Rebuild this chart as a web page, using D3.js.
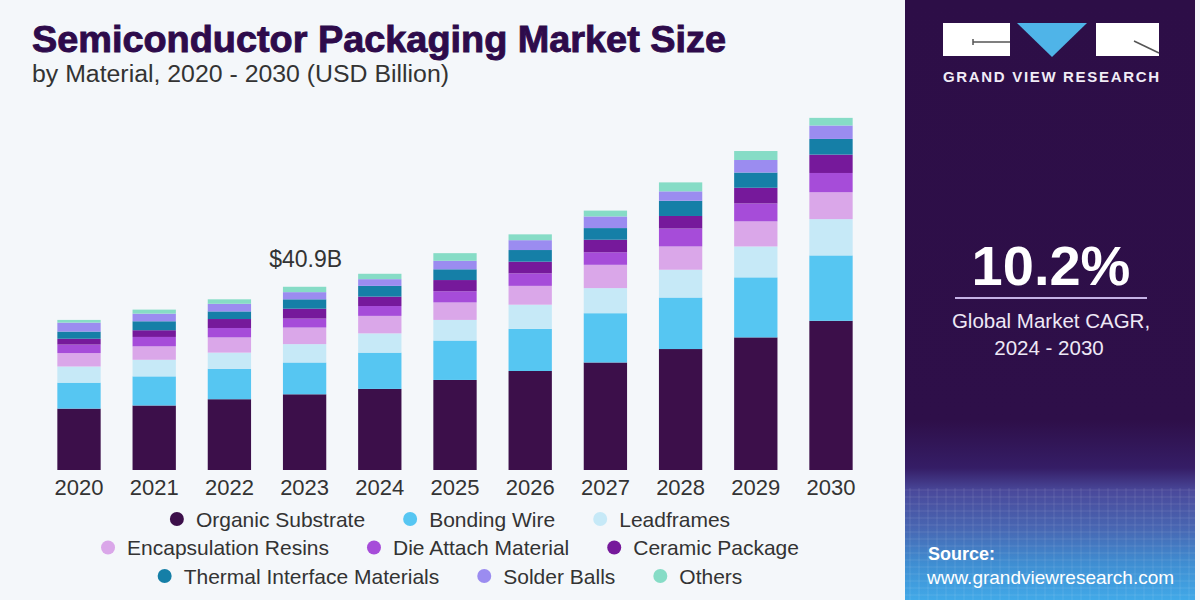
<!DOCTYPE html>
<html>
<head>
<meta charset="utf-8">
<script src="https://cdn.jsdelivr.net/npm/d3@7"></script>
<style>
  html, body { margin: 0; padding: 0; background: #f4f7fa; }
  svg { display: block; }
  text { font-family: "Liberation Sans", Arial, sans-serif; }
</style>
</head>
<body>
<svg id="chart" width="1200" height="600"></svg>
<script>
// ---------- data (USD Billion) ----------
const years = ["2020","2021","2022","2023","2024","2025","2026","2027","2028","2029","2030"];
const organicSubstrate   = [13.7, 14.4, 15.8, 16.9, 18.1, 20.1, 22.1, 24.0, 27.0, 29.6, 33.3];
const bondingWire        = [5.8, 6.5, 6.8, 7.1, 8.1, 8.8, 9.4, 11.0, 11.5, 13.4, 14.6];
const leadframes         = [3.6, 3.7, 3.6, 4.1, 4.3, 4.6, 5.4, 5.6, 6.2, 6.9, 8.1];
const encapsulation      = [3.0, 3.0, 3.4, 3.7, 3.9, 3.9, 4.2, 5.2, 5.2, 5.6, 6.0];
const dieAttach          = [1.9, 2.1, 2.1, 2.0, 2.2, 2.5, 2.8, 2.8, 4.0, 4.0, 4.3];
const ceramicPackage     = [1.3, 1.5, 2.0, 2.2, 2.1, 2.5, 2.6, 2.8, 2.8, 3.5, 4.1];
const thermalInterface   = [1.6, 2.0, 1.7, 2.1, 2.4, 2.4, 2.6, 2.6, 3.4, 3.4, 3.5];
const solderBalls        = [2.0, 1.7, 1.7, 1.6, 1.5, 1.9, 2.2, 2.6, 2.1, 2.8, 3.0];
const others             = [0.6, 0.9, 1.0, 1.2, 1.2, 1.7, 1.3, 1.3, 2.0, 2.0, 1.7];
const seriesNames = ["Organic Substrate","Bonding Wire","Leadframes","Encapsulation Resins",
  "Die Attach Material","Ceramic Package","Thermal Interface Materials","Solder Balls","Others"];
const seriesValues = [organicSubstrate, bondingWire, leadframes, encapsulation, dieAttach,
  ceramicPackage, thermalInterface, solderBalls, others];
const seriesColors = ["#3c0f4a","#56c6f2","#c6e9f7","#daa7e9","#a64cd9","#76199b","#157fa7","#9b8cf0","#86dcc6"];
const legendRows = [
  ["Organic Substrate","Bonding Wire","Leadframes"],
  ["Encapsulation Resins","Die Attach Material","Ceramic Package"],
  ["Thermal Interface Materials","Solder Balls","Others"]
];
const annotationYear = "2023";
const annotationText = "$40.9B";
const cagrText = "10.2%";

// ---------- build table ----------
const table = years.map((y, i) => {
  const row = { year: y };
  seriesNames.forEach((n, k) => row[n] = seriesValues[k][i]);
  return row;
});
const stacked = d3.stack().keys(seriesNames)(table);
const color = d3.scaleOrdinal().domain(seriesNames).range(seriesColors);

const svg = d3.select("#chart");

// background
svg.append("rect").attr("width", 1200).attr("height", 600).attr("fill", "#f4f7fa");

// ---------- scales ----------
const x = d3.scaleBand().domain(years).range([41.4, 868.6]).paddingInner(0.424).paddingOuter(0.212);
const y = d3.scaleLinear().domain([0, 100]).range([470, 22]);

// ---------- bars ----------
const layers = svg.append("g").selectAll("g").data(stacked).join("g")
  .attr("fill", d => color(d.key));
layers.selectAll("rect").data(d => d).join("rect")
  .attr("x", d => x(d.data.year))
  .attr("width", x.bandwidth())
  .attr("y", d => y(d[1]))
  .attr("height", d => y(d[0]) - y(d[1]));

// ---------- x axis ----------
const xAxis = svg.append("g").attr("transform", "translate(0,470)")
  .call(d3.axisBottom(x).tickSize(0).tickPadding(9.5));
xAxis.select(".domain").remove();
xAxis.selectAll("text").attr("font-size", 22).attr("fill", "#333")
  .style("font-family", "'Liberation Sans', Arial, sans-serif");

// ---------- annotation ----------
const annIdx = years.indexOf(annotationYear);
const annTotal = d3.sum(seriesValues, s => s[annIdx]);
svg.append("text")
  .attr("x", x(annotationYear) + x.bandwidth() / 2 + 1)
  .attr("y", y(annTotal) - 19.5)
  .attr("text-anchor", "middle").attr("font-size", 23).attr("fill", "#333")
  .text(annotationText);

// ---------- title ----------
svg.append("text").attr("x", 32).attr("y", 52)
  .attr("font-size", 36).attr("font-weight", 900).attr("fill", "#2e0b4b")
  .attr("stroke", "#2e0b4b").attr("stroke-width", 0.9)
  .attr("textLength", 694).attr("lengthAdjust", "spacingAndGlyphs")
  .text("Semiconductor Packaging Market Size");
svg.append("text").attr("x", 32).attr("y", 82)
  .attr("font-size", 23).attr("fill", "#333")
  .attr("textLength", 417).attr("lengthAdjust", "spacingAndGlyphs")
  .text("by Material, 2020 - 2030 (USD Billion)");

// ---------- legend ----------
const legendCenter = 450, legendGap = 38, dotR = 7, textOff = 19;
const legendBase = [526.5, 555, 583.5];
legendRows.forEach((row, r) => {
  const g = svg.append("g");
  const items = row.map(name => {
    const ig = g.append("g");
    ig.append("circle").attr("r", dotR).attr("cy", -7.5).attr("cx", dotR).attr("fill", color(name));
    const t = ig.append("text").attr("x", dotR + textOff).attr("y", 0)
      .attr("font-size", 21).attr("fill", "#333").text(name);
    return { ig, w: dotR + textOff + t.node().getComputedTextLength() };
  });
  const total = d3.sum(items, d => d.w) + legendGap * (items.length - 1);
  let cx = legendCenter - total / 2;
  items.forEach(it => {
    it.ig.attr("transform", `translate(${cx},${legendBase[r]})`);
    cx += it.w + legendGap;
  });
});

// ---------- right panel ----------
const defs = svg.append("defs");
const grad = defs.append("linearGradient").attr("id", "panelGrad")
  .attr("x1", 0).attr("y1", 0).attr("x2", 0).attr("y2", 1);
[[0, "#2d0e47"], [0.70, "#2e0f49"], [0.78, "#351d66"], [0.82, "#4a4a9c"], [0.88, "#4866b2"], [0.94, "#3f8ed2"], [1, "#41a9e8"]]
  .forEach(([o, c]) => grad.append("stop").attr("offset", o).attr("stop-color", c));
svg.append("rect").attr("x", 905).attr("y", 0).attr("width", 290).attr("height", 600).attr("fill", "url(#panelGrad)");

// faint grid texture at panel bottom
const grid = svg.append("g").attr("stroke", "#ffffff").attr("stroke-opacity", 0.10).attr("stroke-width", 1);
d3.range(490, 600, 7).forEach(yy => grid.append("line").attr("x1", 905).attr("x2", 1195).attr("y1", yy).attr("y2", yy));
d3.range(910, 1195, 9).forEach(xx => grid.append("line").attr("x1", xx).attr("x2", xx).attr("y1", 488).attr("y2", 600));

// logo
const logo = svg.append("g");
logo.append("rect").attr("x", 943).attr("y", 23).attr("width", 67).attr("height", 33).attr("fill", "#ffffff");
logo.append("path").attr("d", "M1017,23 L1087,23 L1052,57 Z").attr("fill", "#4fb4e8");
logo.append("rect").attr("x", 1096).attr("y", 23).attr("width", 63).attr("height", 33).attr("fill", "#ffffff");
logo.append("path").attr("d", "M973,39 L973,45 M973,42 L1010,42").attr("stroke", "#555").attr("stroke-width", 1.5).attr("fill", "none");
logo.append("path").attr("d", "M1134,41 L1159,53").attr("stroke", "#555").attr("stroke-width", 1.5);
logo.append("text").attr("x", 943).attr("y", 82).attr("font-size", 15).attr("font-weight", 700)
  .attr("fill", "#f1ecf6").attr("textLength", 216).attr("lengthAdjust", "spacing")
  .text("GRAND VIEW RESEARCH");

// CAGR
svg.append("text").attr("x", 1051).attr("y", 285).attr("text-anchor", "middle")
  .attr("font-size", 56).attr("font-weight", 700).attr("fill", "#ffffff").text(cagrText);
svg.append("line").attr("x1", 955).attr("x2", 1147).attr("y1", 298).attr("y2", 298)
  .attr("stroke", "#c5b2e6").attr("stroke-width", 2);
svg.append("text").attr("x", 1051).attr("y", 328).attr("text-anchor", "middle")
  .attr("font-size", 20.5).attr("fill", "#eee8f6").text("Global Market CAGR,");
svg.append("text").attr("x", 1049).attr("y", 355).attr("text-anchor", "middle")
  .attr("font-size", 20.5).attr("fill", "#eee8f6").text("2024 - 2030");

// source
svg.append("text").attr("x", 928).attr("y", 560).attr("font-size", 18).attr("font-weight", 700)
  .attr("fill", "#ffffff").text("Source:");
svg.append("text").attr("x", 927).attr("y", 584).attr("font-size", 19)
  .attr("fill", "#ffffff").text("www.grandviewresearch.com");
</script>
</body>
</html>
